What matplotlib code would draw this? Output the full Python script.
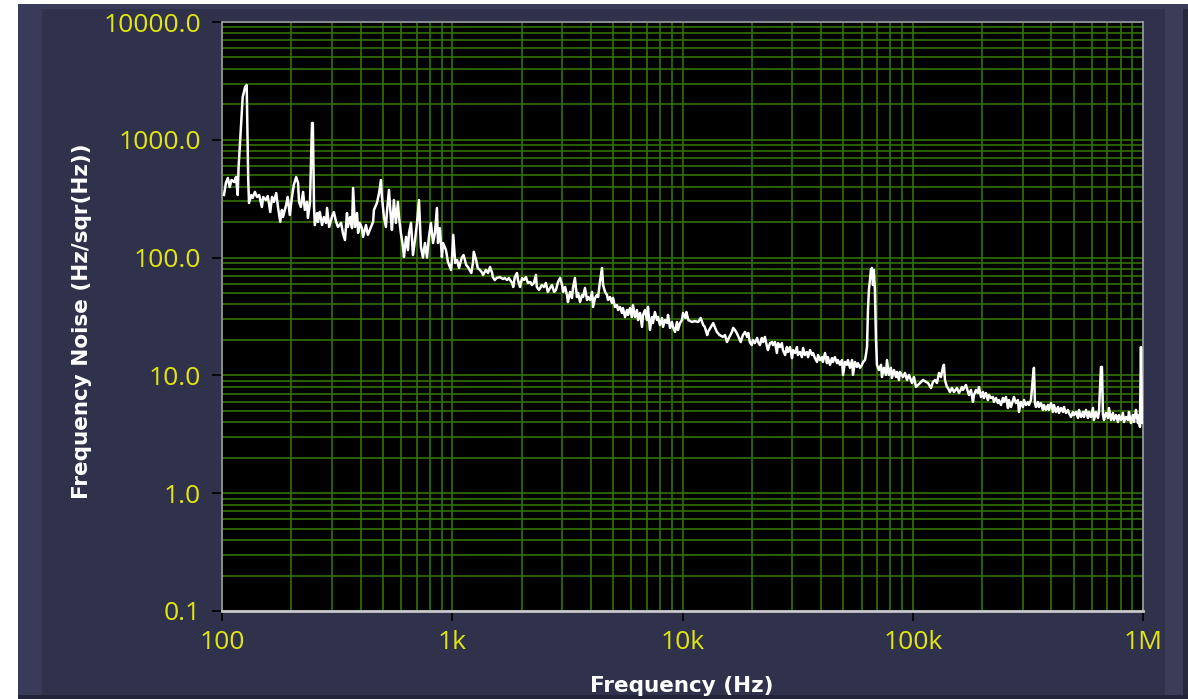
import numpy as np
import matplotlib
matplotlib.use("Agg")
import matplotlib.pyplot as plt
from matplotlib.patches import Rectangle
from matplotlib.ticker import FixedLocator, LogLocator, NullFormatter

# Frequency noise spectrum, split by decade
f_100_1k = [102, 104, 106, 108, 110, 113, 115, 117, 118, 121,
            123, 126, 128, 130, 131, 134, 136, 139, 142, 145,
            149, 151, 155, 158, 162, 165, 168, 172, 175, 179,
            182, 184, 190, 193, 197, 201, 205, 210, 214, 216,
            220, 225, 229, 234, 236, 241, 246, 248, 251, 253,
            259, 261, 266, 272, 277, 283, 286, 292, 300, 306,
            313, 319, 329, 335, 342, 349, 352, 360, 367, 371,
            378, 386, 390, 397, 405, 410, 422, 430, 444, 453,
            457, 471, 481, 490, 495, 505, 515, 520, 531, 542,
            547, 558, 569, 581, 587, 598, 611, 617, 630, 642,
            649, 662, 675, 689, 703, 717, 731, 746, 761, 777,
            792, 808, 825, 841, 858, 867, 884, 902, 912, 939,
            958, 988, 997]
n_100_1k = [340, 430, 474, 397, 456, 438, 483, 340, 576, 1335,
            2309, 2807, 2919, 456, 291, 340, 321, 361, 327, 340,
            269, 327, 308, 333, 244, 327, 297, 353, 269, 201,
            254, 221, 280, 327, 230, 321, 413, 483, 430, 297,
            269, 361, 254, 297, 217, 291, 1389, 1389, 269, 189,
            239, 201, 244, 189, 221, 197, 264, 182, 221, 244,
            201, 182, 197, 162, 141, 239, 182, 221, 178, 390,
            182, 239, 162, 197, 178, 150, 189, 156, 182, 201,
            254, 291, 353, 456, 327, 221, 182, 239, 375, 209,
            172, 308, 197, 297, 221, 162, 123, 101, 150, 116,
            162, 197, 105, 141, 197, 308, 123, 100, 133, 100,
            150, 197, 133, 162, 264, 133, 178, 101, 133, 116,
            91.8, 78.5, 95.4]

f_1k_10k = [1010, 1030, 1050, 1070, 1100, 1120, 1150, 1170, 1210, 1230,
            1240, 1270, 1290, 1320, 1350, 1360, 1400, 1430, 1460, 1490,
            1500, 1530, 1560, 1610, 1660, 1690, 1730, 1760, 1820, 1840,
            1870, 1910, 1930, 1970, 2010, 2050, 2090, 2130, 2180, 2220,
            2260, 2310, 2330, 2380, 2450, 2500, 2550, 2600, 2660, 2710,
            2770, 2820, 2880, 2940, 3000, 3030, 3090, 3150, 3180, 3250,
            3310, 3350, 3410, 3480, 3520, 3590, 3660, 3700, 3770, 3850,
            3890, 3970, 4050, 4090, 4170, 4250, 4300, 4380, 4470, 4520,
            4610, 4700, 4750, 4840, 4940, 4990, 5090, 5190, 5250, 5350,
            5460, 5510, 5630, 5740, 5800, 5910, 6030, 6090, 6220, 6340,
            6410, 6540, 6670, 6740, 6870, 7010, 7080, 7220, 7370, 7440,
            7590, 7750, 7830, 7980, 8150, 8230, 8400, 8570, 8650, 8830,
            9000, 9090, 9280, 9460, 9560, 9750, 9950, 10050, 10300]
n_1k_10k = [156, 90.0, 95.4, 81.6, 100, 105, 86.5, 83.2, 74.0, 90.0,
            112, 95.4, 81.6, 78.5, 74.0, 71.2, 78.5, 74.0, 83.2, 74.0,
            68.4, 64.5, 67.1, 68.4, 65.8, 67.1, 64.5, 67.1, 60.9, 56.3,
            68.4, 74.0, 64.5, 56.3, 67.1, 64.5, 68.4, 60.9, 62.1, 58.5,
            60.9, 71.2, 56.3, 53.1, 58.5, 56.3, 60.9, 51.1, 55.2, 58.5,
            51.1, 53.1, 62.1, 67.1, 58.5, 51.1, 56.3, 48.1, 42.0, 51.1,
            45.4, 56.3, 67.1, 46.3, 50.1, 42.0, 48.1, 46.3, 55.2, 43.7,
            46.3, 43.7, 51.1, 38.1, 45.4, 48.1, 46.3, 62.1, 81.6, 58.5,
            51.1, 48.1, 43.7, 46.3, 41.2, 45.4, 38.1, 39.6, 35.9, 38.1,
            33.9, 37.3, 31.3, 35.9, 32.6, 37.3, 31.3, 39.6, 31.3, 35.9,
            29.5, 33.9, 25.8, 32.6, 35.9, 29.5, 38.1, 24.3, 31.3, 27.8,
            34.5, 29.5, 31.3, 26.8, 30.7, 25.8, 29.5, 27.8, 32.6, 25.3,
            28.4, 25.8, 23.4, 28.4, 24.3, 27.8, 29.5, 33.9, 30.7]

f_10k_100k = [10400, 10600, 11000, 11300, 11700, 12000, 12300, 12500, 12800, 12900,
              13300, 13600, 13800, 14100, 14500, 15000, 15300, 15600, 15900, 16400,
              16600, 16900, 17200, 17600, 17900, 18300, 18700, 19100, 19300, 19600,
              20000, 20200, 20600, 21100, 21300, 21700, 22100, 22400, 22800, 23300,
              23500, 24000, 24500, 24700, 25200, 25700, 26000, 26500, 27000, 27300,
              27900, 28400, 28700, 29300, 29900, 30200, 30800, 31400, 31700, 32400,
              33000, 33400, 34000, 34700, 35100, 35800, 36500, 36900, 37600, 38400,
              38800, 39500, 40300, 40700, 41600, 42400, 42800, 43700, 44600, 45000,
              45900, 46900, 47300, 48300, 49300, 49800, 50800, 51800, 52300, 53400,
              54500, 55000, 56100, 57200, 57800, 59000, 60200, 60800, 62000, 62600,
              63300, 63900, 64500, 65200, 65800, 66500, 67200, 67800, 68500, 69200,
              69900, 71300, 72800, 73500, 75000, 76500, 77300, 78800, 80400, 81200,
              82900, 84600, 85400, 87100]
n_10k_100k = [34.5, 29.5, 28.4, 28.9, 28.4, 30.7, 26.8, 25.8, 22.0, 23.4,
              25.8, 27.8, 25.8, 23.4, 22.0, 21.2, 22.0, 19.2, 20.8, 23.4,
              25.3, 24.3, 22.9, 20.8, 19.2, 22.0, 23.4, 21.2, 22.9, 19.2,
              18.1, 20.0, 18.8, 20.8, 19.2, 18.1, 20.8, 19.2, 21.2, 17.4,
              16.4, 18.8, 19.2, 18.1, 19.2, 15.5, 18.8, 17.4, 18.8, 16.4,
              14.9, 17.4, 15.8, 17.4, 14.0, 16.4, 15.5, 17.4, 14.9, 15.8,
              14.3, 17.1, 14.9, 15.8, 14.3, 16.4, 14.9, 15.5, 14.0, 13.0,
              14.9, 13.5, 14.3, 13.0, 15.5, 12.7, 14.3, 12.3, 14.0, 13.0,
              14.3, 12.7, 13.5, 12.3, 13.5, 10.1, 13.0, 12.3, 13.5, 11.6,
              13.5, 10.1, 13.0, 11.8, 12.7, 11.6, 12.3, 13.0, 13.5, 14.9,
              17.4, 35.9, 53.1, 64.5, 78.5, 81.6, 58.5, 78.5, 53.1, 20.8,
              12.3, 11.1, 12.3, 9.69, 11.6, 10.1, 13.5, 10.1, 11.6, 9.50,
              11.1, 9.69, 10.7, 9.14]

f_100k_1M = [88000, 90700, 92500, 94400, 96300, 99200, 101200, 103300, 105400, 108600,
             110800, 114200, 116500, 120000, 122400, 124900, 127400, 130000, 132600, 135300,
             136600, 138000, 140800, 142200, 145100, 148000, 151000, 155600, 158800, 163600,
             165200, 170300, 173700, 175500, 179000, 182600, 184500, 188200, 192000, 193900,
             197800, 201800, 203800, 207900, 212100, 214200, 218600, 223000, 225200, 229800,
             234400, 236800, 241600, 246500, 248900, 254000, 259100, 261700, 267000, 272400,
             275100, 280700, 286300, 289200, 295000, 301000, 304000, 310200, 316400, 319600,
             326100, 332700, 336000, 339400, 342800, 349700, 353200, 360400, 367700, 371400,
             378900, 386500, 390400, 398400, 406400, 410500, 418800, 427300, 431600, 440300,
             449200, 453700, 462900, 472200, 477000, 486600, 496400, 501400, 511500, 521900,
             527100, 537800, 548600, 554100, 565300, 576800, 582500, 594300, 606300, 612400,
             624700, 637300, 643700, 656800, 663400, 670000, 676800, 690400, 704400, 711400,
             725900, 740600, 748000, 763100, 778500, 786300, 802200, 818400, 826700, 843400,
             860400, 869000, 886600, 904500, 913600, 932000, 950800, 960400, 970000, 979800,
             989700, 999700]
n_100k_1M = [10.7, 9.69, 10.5, 9.14, 10.1, 8.62, 9.69, 7.97, 8.29, 8.79,
             9.14, 8.79, 8.62, 7.82, 8.79, 9.14, 8.62, 10.5, 9.69, 11.8,
             12.3, 9.14, 7.97, 7.82, 7.23, 7.82, 7.23, 7.82, 7.09, 7.97,
             7.52, 8.29, 7.23, 6.82, 7.52, 5.95, 6.82, 7.52, 7.09, 7.97,
             6.56, 7.23, 6.43, 7.09, 6.18, 6.82, 6.43, 6.56, 5.95, 6.43,
             5.83, 6.18, 5.61, 6.43, 5.95, 6.56, 5.29, 6.18, 5.39, 6.18,
             6.56, 5.83, 6.18, 4.89, 5.95, 5.39, 6.18, 5.61, 5.95, 5.61,
             6.18, 9.69, 11.6, 5.83, 5.39, 5.95, 5.39, 5.83, 5.09, 5.61,
             5.09, 5.61, 5.09, 5.83, 4.89, 5.61, 4.89, 5.39, 4.80, 5.29,
             4.89, 5.39, 4.80, 5.09, 4.80, 4.44, 4.89, 4.61, 4.89, 4.35,
             5.09, 4.44, 4.89, 4.44, 5.09, 4.35, 4.89, 4.44, 5.29, 4.18,
             4.89, 4.35, 4.89, 11.8, 11.8, 4.61, 4.18, 4.80, 4.35, 5.29,
             4.18, 4.80, 4.18, 4.61, 4.02, 4.61, 4.18, 4.80, 4.02, 4.44,
             4.18, 4.89, 3.94, 4.61, 4.02, 5.09, 3.94, 4.61, 3.65, 17.4,
             3.94, 4.35]

x_ticks = [1e2, 1e3, 1e4, 1e5, 1e6]
x_labels = ["100", "1k", "10k", "100k", "1M"]
y_ticks = [0.1, 1, 10, 100, 1000, 10000]
y_labels = ["0.1", "1.0", "10.0", "100.0", "1000.0", "10000.0"]

freq = np.concatenate([f_100_1k, f_1k_10k, f_10k_100k, f_100k_1M])
noise = np.concatenate([n_100_1k, n_1k_10k, n_10k_100k, n_100k_1M])

PANEL = "#30324b"
GRID = "#317200"
YELLOW = "#e2e60f"

fig = plt.figure(figsize=(11.88, 6.99), dpi=100)
fig.patch.set_facecolor(PANEL)

# window frame: white margins, lighter bevel strips, dark bottom edge
W, H = 1188.0, 699.0
frame = [
    (0, 0, 18, H, "white"),
    (0, H - 4, W, 4, "white"),
    (18, H - 9, W - 18, 5, "#3a3c58"),
    (18, 0, 24, H - 4, "#393c59"),
    (1165, 0, 18, H - 9, "#3a3c58"),
    (1183, 0, 5, H - 9, "#26283c"),
    (18, 0, W - 18, 4, "#23243a"),
]
for x0, y0, w, h, c in frame:
    fig.patches.append(Rectangle((x0 / W, y0 / H), w / W, h / H,
                                 transform=fig.transFigure, color=c, lw=0, zorder=0))

ax = fig.add_axes([222 / W, 1 - 611 / H, (1143 - 222) / W, (611 - 22) / H])
ax.set_facecolor("black")
ax.set_xscale("log")
ax.set_yscale("log")
ax.set_xlim(1e2, 1e6)
ax.set_ylim(0.1, 1e4)

ax.plot(freq, noise, color="white", lw=1.8, zorder=3)

ax.xaxis.set_major_locator(FixedLocator(x_ticks))
ax.yaxis.set_major_locator(FixedLocator(y_ticks))
ax.xaxis.set_minor_locator(LogLocator(base=10, subs=np.arange(2, 10)))
ax.yaxis.set_minor_locator(LogLocator(base=10, subs=np.arange(2, 10)))
ax.xaxis.set_minor_formatter(NullFormatter())
ax.yaxis.set_minor_formatter(NullFormatter())
ax.set_xticklabels(x_labels)
ax.set_yticklabels(y_labels)
ax.grid(True, which="both", color=GRID, lw=1.2, zorder=1)
ax.set_axisbelow(True)

ax.tick_params(which="major", direction="out", length=7, width=1.2, color="black",
               labelcolor=YELLOW, labelsize=19)
ax.tick_params(axis="x", which="major", pad=7)
ax.tick_params(axis="y", which="major", pad=8)
ax.tick_params(which="minor", length=0)
for lab in ax.get_xticklabels() + ax.get_yticklabels():
    lab.set_fontfamily("Open Sans")

for side in ["top", "left", "right"]:
    ax.spines[side].set_color("#9a9aa4")
    ax.spines[side].set_linewidth(1.2)
ax.spines["bottom"].set_color("#c8c8cc")
ax.spines["bottom"].set_linewidth(2)

fig.text(82 / W, 1 - 321 / H, "Frequency Noise (Hz/sqr(Hz))", rotation=90,
         ha="center", va="center", color="white", fontsize=15.5,
         fontweight="bold", family="DejaVu Sans")
fig.text(682 / W, 1 - 676 / H, "Frequency (Hz)", ha="center", va="top",
         color="white", fontsize=15.5, fontweight="bold", family="DejaVu Sans")

fig.savefig("out.png", dpi=100, facecolor=fig.get_facecolor())
